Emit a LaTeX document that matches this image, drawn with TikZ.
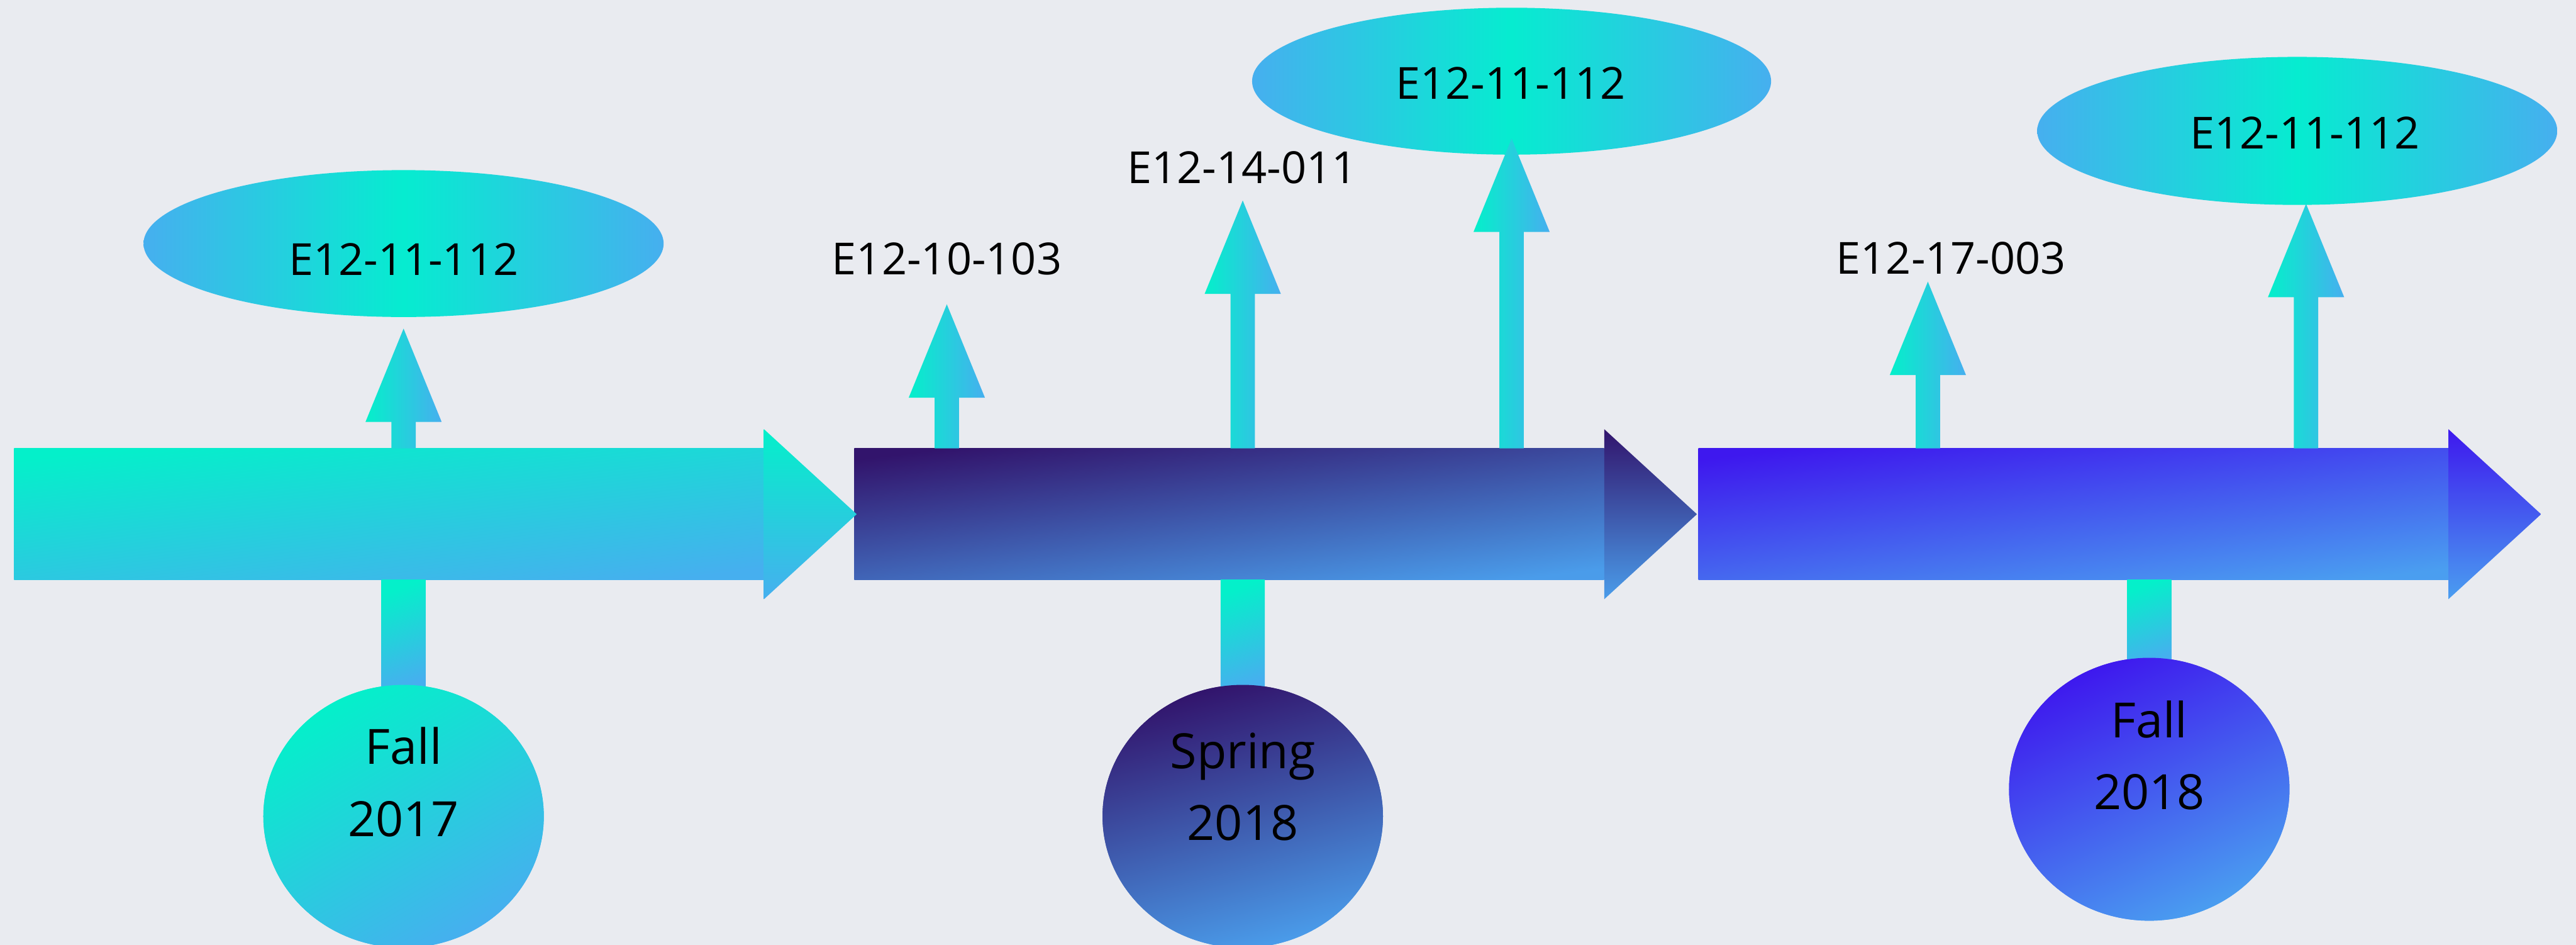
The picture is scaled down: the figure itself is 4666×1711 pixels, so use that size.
\documentclass[tikz,border=0pt]{standalone}
\usepackage{fontspec}
\setmainfont{Open Sans}
\usetikzlibrary{shapes.geometric,calc}
\definecolor{bgc}{RGB}{233,235,240}
\definecolor{tealA}{RGB}{4,240,202}
\definecolor{tealM}{RGB}{6,236,208}
\definecolor{blueA}{RGB}{70,175,239}
\definecolor{purpA}{RGB}{50,20,108}
\definecolor{blueB}{RGB}{74,156,234}
\definecolor{violA}{RGB}{62,24,238}
\definecolor{blueC}{RGB}{74,158,240}
\tikzset{
  lbl/.style={font=\fontsize{80}{96}\selectfont, text=black, inner sep=0pt},
  seasonlbl/.style={font=\fontsize{88}{130}\selectfont, align=center, text=black, inner sep=0pt},
  barbody/.style={rectangle, minimum width=1358pt, minimum height=238pt, inner sep=0pt},
  tealshade/.style={top color=tealA, bottom color=blueA, shading angle=#1},
  tealshade/.default=7,
  purpshade/.style={top color=purpA, bottom color=blueB, shading angle=#1},
  purpshade/.default=7,
  violshade/.style={top color=violA, bottom color=blueC, shading angle=#1},
  violshade/.default=7,
  upshade/.style={left color=tealA, right color=blueA},
  downshade/.style={top color=tealA, bottom color=blueA, shading angle=20},
  oval/.style={ellipse, inner sep=0pt, minimum width=942pt, minimum height=266pt,
    left color=blueA, right color=blueA, middle color=tealM},
  season/.style={ellipse, inner sep=0pt, minimum width=508pt, minimum height=476pt},
}
\newcommand\tlupar[2]{%
  \shade[upshade] ($(#1.north -| #2)+(-22,0)$) -- ($(#2)+(-22,169)$) -- ($(#2)+(-69,169)$)
    -- (#2) -- ($(#2)+(69,169)$) -- ($(#2)+(22,169)$) -- ($(#1.north -| #2)+(22,0)$) -- cycle;}
\newcommand\tlhead[2]{%
  \shade[#2] ($(#1.east)+(0,-154)$) -- ($(#1.east)+(168,0)$) -- ($(#1.east)+(0,154)$) -- cycle;}
\begin{document}
\begin{tikzpicture}[x=1pt,y=-1pt]
\fill[bgc] (0,0) rectangle (4666,1711);
\useasboundingbox (0,0) rectangle (4666,1711);

% bars
\node[barbody, tealshade] (bar1) at (704.5,931) {};
\node[barbody, purpshade] (bar2) at (2226.5,931) {};
\node[barbody, violshade] (bar3) at (3755.5,931) {};
\tlhead{bar1}{tealshade=0}
\tlhead{bar2}{purpshade=0}
\tlhead{bar3}{violshade=0}

% down connectors
\node[season, top color=tealA, bottom color=blueA, shading angle=30] (c1) at (731,1478) {};
\node[season, top color=purpA, bottom color=blueB, shading angle=15] (c2) at (2251,1478) {};
\node[season, top color=violA, bottom color=blueC, shading angle=25] (c3) at (3893,1429) {};
\shade[downshade] ($(bar1.south -| c1.north)+(-40,0)$) rectangle ($(c1.north)+(40,15)$);
\shade[downshade] ($(bar2.south -| c2.north)+(-40,0)$) rectangle ($(c2.north)+(40,15)$);
\shade[downshade] ($(bar3.south -| c3.north)+(-40,0)$) rectangle ($(c3.north)+(40,15)$);
% season circles drawn over connector ends
\node[season, top color=tealA, bottom color=blueA, shading angle=30] at (c1) {};
\node[season, top color=purpA, bottom color=blueB, shading angle=15] at (c2) {};
\node[season, top color=violA, bottom color=blueC, shading angle=25] at (c3) {};

% ovals
\node[oval] (e1) at (731,441) {};
\node[oval, minimum width=940pt] (e2) at (2738,147) {};
\node[oval, minimum height=268pt] (e3) at (4161,237) {};

% up arrows
\coordinate (p1) at (731,595);
\coordinate (pa) at (1715,551);
\coordinate (pb) at (2251,363);
\coordinate (pc) at (2738,251);
\coordinate (pd) at (3492,510);
\coordinate (pe) at (4177,369);
\tlupar{bar1}{p1}
\tlupar{bar2}{pa}
\tlupar{bar2}{pb}
\tlupar{bar2}{pc}
\tlupar{bar3}{pd}
\tlupar{bar3}{pe}

% labels
\node[lbl] (t1) at (731,469) {E12-11-112};
\node[lbl] (ta) at (1715,469) {E12-10-103};
\node[lbl] (tb) at (2250,303) {E12-14-011};
\node[lbl] (tc) at (2736,150) {E12-11-112};
\node[lbl] (td) at (3534,468) {E12-17-003};
\node[lbl] (te) at (4175,241) {E12-11-112};

\node[seasonlbl] (s1) at (731,1416) {Fall\\2017};
\node[seasonlbl] (s2) at (2251,1425) {Spring\\2018};
\node[seasonlbl] (s3) at (3893,1368) {Fall\\2018};
\end{tikzpicture}
\end{document}
